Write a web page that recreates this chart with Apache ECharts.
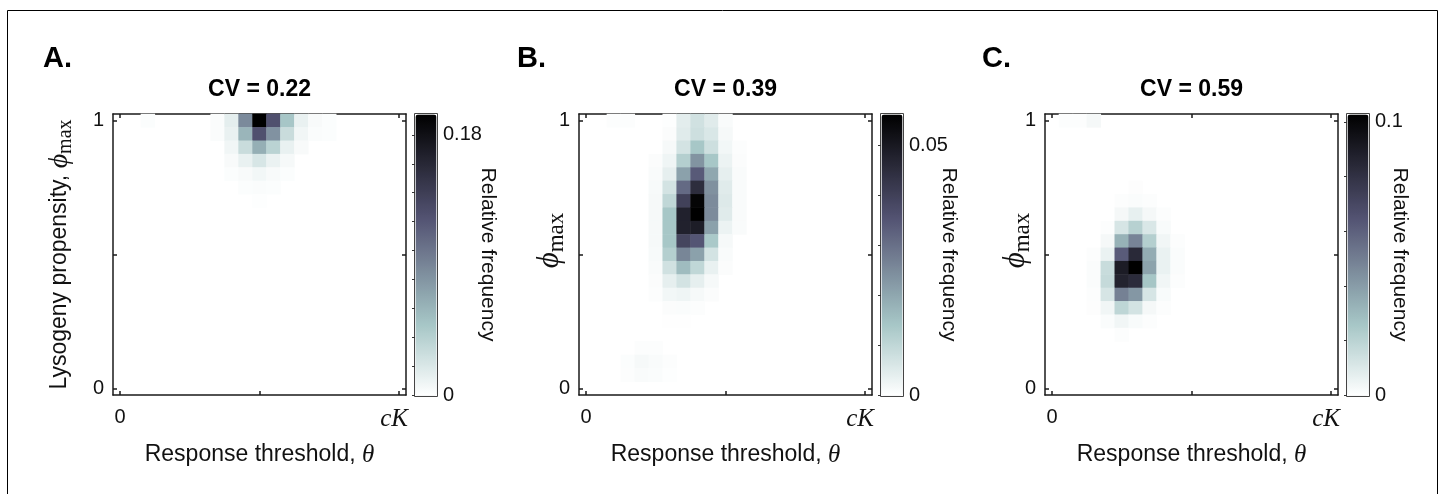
<!DOCTYPE html>
<html><head><meta charset="utf-8">
<style>html,body{margin:0;padding:0;background:#fff}#c{width:1444px;height:494px}</style>
<script src="https://cdn.jsdelivr.net/npm/echarts@6/dist/echarts.min.js"></script>
</head><body><div id="c"></div>
<script>
// ---- categories (bin centres of the 21x21 histogram) ----
const thetaCats = ['0','0.05','0.1','0.15','0.2','0.25','0.3','0.35','0.4','0.45','0.5','0.55','0.6','0.65','0.7','0.75','0.8','0.85','0.9','0.95','1'];
const phiCats   = ['0','0.05','0.1','0.15','0.2','0.25','0.3','0.35','0.4','0.45','0.5','0.55','0.6','0.65','0.7','0.75','0.8','0.85','0.9','0.95','1'];
const panelLetters = ['A.', 'B.', 'C.'];
const cvTitles = ['CV = 0.22', 'CV = 0.39', 'CV = 0.59'];
const xTickLabels = ['0', 'cK'];
const yTickLabels = ['0', '1'];
const cbMax = [0.1945, 0.0562, 0.1029];
const cbTickStep = [0.02, 0.01, 0.02];
const cbLabelValues = [[0, 0.18], [0, 0.05], [0, 0.1]];
const cbLabelTexts = [['0', '0.18'], ['0', '0.05'], ['0', '0.1']];

// ---- relative frequencies; rows run from phi = 1 (top) downward, columns start at theta index colStart ----
const A_colStart = 2;
const A_rows = [
  [0.002, 0, 0, 0, 0, 0.003, 0.015, 0.087, 0.1945, 0.125, 0.049, 0.012, 0.004, 0.002],
  [0, 0, 0, 0, 0, 0.003, 0.012, 0.060, 0.125, 0.082, 0.030, 0.008, 0.003, 0.002],
  [0, 0, 0, 0, 0, 0, 0.008, 0.030, 0.064, 0.038, 0.012, 0.004, 0, 0],
  [0, 0, 0, 0, 0, 0, 0.004, 0.012, 0.022, 0.011, 0.005, 0, 0, 0],
  [0, 0, 0, 0, 0, 0, 0.002, 0.004, 0.007, 0.004, 0.002, 0, 0, 0],
  [0, 0, 0, 0, 0, 0, 0, 0.002, 0.003, 0.002, 0, 0, 0, 0],
  [0, 0, 0, 0, 0, 0, 0, 0, 0.001, 0, 0, 0, 0, 0]
];
const B_colStart = 2;
const B_rows = [
  [0.0005, 0.0005, 0, 0, 0.0003, 0.0045, 0.0075, 0.005, 0.001, 0],
  [0, 0, 0, 0, 0.0007, 0.005, 0.008, 0.006, 0.0015, 0],
  [0, 0, 0, 0, 0.0015, 0.007, 0.014, 0.008, 0.002, 0.0005],
  [0, 0, 0, 0.0007, 0.0025, 0.012, 0.0235, 0.014, 0.003, 0.0007],
  [0, 0, 0, 0.001, 0.004, 0.021, 0.034, 0.020, 0.004, 0.001],
  [0, 0, 0, 0.0012, 0.007, 0.031, 0.045, 0.024, 0.005, 0.001],
  [0, 0, 0, 0.0015, 0.010, 0.040, 0.055, 0.025, 0.0055, 0.001],
  [0, 0, 0, 0.0015, 0.014, 0.048, 0.0562, 0.025, 0.005, 0.001],
  [0, 0, 0, 0.0015, 0.014, 0.048, 0.049, 0.021, 0.003, 0.001],
  [0, 0, 0, 0.0015, 0.014, 0.039, 0.035, 0.0135, 0.0015, 0],
  [0, 0, 0, 0.0012, 0.012, 0.026, 0.021, 0.007, 0.001, 0],
  [0, 0, 0, 0.001, 0.0075, 0.016, 0.010, 0.0035, 0.0007, 0],
  [0, 0, 0, 0.0007, 0.004, 0.007, 0.004, 0.0015, 0, 0],
  [0, 0, 0, 0.0005, 0.002, 0.0025, 0.0015, 0.0007, 0, 0],
  [0, 0, 0, 0, 0.0007, 0.0008, 0.0005, 0, 0, 0],
  [0, 0, 0, 0, 0.0002, 0.0002, 0, 0, 0, 0],
  [0, 0, 0, 0, 0, 0, 0, 0, 0, 0],
  [0, 0, 0.0004, 0.0004, 0, 0, 0, 0, 0, 0],
  [0, 0.0006, 0.0015, 0.001, 0.0005, 0, 0, 0, 0, 0],
  [0, 0.0005, 0.001, 0.0008, 0.0003, 0, 0, 0, 0, 0]
];
const C_colStart = 1;
const C_rows = [
  [0.0008, 0.001, 0.003, 0, 0, 0, 0, 0, 0],
  [0, 0, 0, 0, 0, 0, 0, 0, 0],
  [0, 0, 0, 0, 0, 0, 0, 0, 0],
  [0, 0, 0, 0, 0, 0, 0, 0, 0],
  [0, 0, 0, 0, 0, 0, 0, 0, 0],
  [0, 0, 0, 0, 0, 0.0007, 0, 0, 0],
  [0, 0, 0, 0, 0.001, 0.0015, 0.001, 0, 0],
  [0, 0, 0, 0, 0.003, 0.007, 0.003, 0.001, 0],
  [0, 0, 0, 0.001, 0.012, 0.021, 0.011, 0.002, 0],
  [0, 0, 0, 0.003, 0.033, 0.048, 0.022, 0.004, 0.001],
  [0, 0, 0.001, 0.006, 0.062, 0.084, 0.035, 0.006, 0.0015],
  [0, 0, 0.0015, 0.016, 0.090, 0.1029, 0.038, 0.006, 0.0015],
  [0, 0, 0.0015, 0.017, 0.087, 0.083, 0.026, 0.004, 0.001],
  [0, 0, 0.001, 0.012, 0.049, 0.042, 0.012, 0.002, 0],
  [0, 0, 0.0007, 0.004, 0.019, 0.013, 0.003, 0.001, 0],
  [0, 0, 0, 0.0015, 0.004, 0.002, 0.001, 0, 0],
  [0, 0, 0, 0, 0.0008, 0, 0, 0, 0]
];

// ---- styling / layout ----
const SANS = '"Liberation Sans", Arial, Helvetica, sans-serif';
const SERIF = '"Liberation Serif", "DejaVu Serif", serif';
const INK = '#111';
const boneReversed = ['#ffffff', '#d3e3e3', '#a7c7c7', '#8ba1ab', '#707a8f', '#545474', '#38384d', '#1c1c26', '#000000'];
const panelLeft = [113, 579, 1045];
const W = 293, H = 281, TOP = 114, CB_OFF = 302, CB_W = 21;
const yNameGap = [38, 12, 12];
const yNameShift = [0, 28, 28];
const cbNameGap = [41, 36, 21];
const allRows = [A_rows, B_rows, C_rows];
const allStarts = [A_colStart, B_colStart, C_colStart];

function toCells(rows, colStart) {
  const out = [];
  rows.forEach((row, r) => row.forEach((v, c) => { if (v > 0) out.push([colStart + c, 20 - r, v]); }));
  return out;
}

function nameRich(big) {
  return {
    t: { fontFamily: SANS, fontSize: 23, color: INK, lineHeight: big ? 34 : 30 },
    m: { fontFamily: SERIF, fontStyle: 'italic', fontSize: big ? 31 : 28, color: INK, lineHeight: big ? 34 : 30 },
    s: { fontFamily: SERIF, fontSize: big ? 23 : 20, color: INK, lineHeight: big ? 20 : 18, padding: [big ? 14 : 12, 0, 0, 0] }
  };
}
const xNameRich = {
  t: { fontFamily: SANS, fontSize: 23, color: INK, lineHeight: 28 },
  m: { fontFamily: SERIF, fontStyle: 'italic', fontSize: 25, color: INK, lineHeight: 28 }
};
const tickRich = {
  n: { fontFamily: SANS, fontSize: 20, color: INK },
  m: { fontFamily: SERIF, fontStyle: 'italic', fontSize: 25, color: INK, padding: [0, 10, 0, 0] }
};

const grids = [], xAxes = [], yAxes = [], series = [], visualMaps = [], titles = [];
for (let i = 0; i < 3; i++) {
  const L = panelLeft[i], CL = L + CB_OFF;
  grids.push({ left: L, top: TOP, width: W, height: H });
  grids.push({ left: CL, top: TOP, width: CB_W, height: H });
  const axLine = { show: true, onZero: false, lineStyle: { color: '#1a1a1a', width: 1.5 } };
  const tick = { show: true, inside: true, length: 4, alignWithLabel: true,
    interval: (idx) => idx % 10 === 0, lineStyle: { color: '#1a1a1a', width: 1.5 } };
  const ends = (idx) => idx === 0 || idx === 20;
  // bottom x
  xAxes.push({
    type: 'category', gridIndex: 2 * i, data: thetaCats, position: 'bottom',
    axisLine: axLine, axisTick: tick, splitLine: { show: false },
    axisLabel: { interval: ends, margin: 12, fontSize: 20, color: INK, fontFamily: SANS,
      formatter: (v, idx) => idx === 0 ? '{n|' + xTickLabels[0] + '}' : '{m|' + xTickLabels[1] + '}',
      rich: tickRich },
    name: '{t|Response threshold, }{m|θ}', nameLocation: 'middle', nameGap: 46, nameMoveOverlap: false,
    nameTextStyle: { rich: xNameRich }
  });
  // top x
  xAxes.push({
    type: 'category', gridIndex: 2 * i, data: thetaCats, position: 'top',
    axisLine: axLine, axisTick: tick, axisLabel: { show: false }, splitLine: { show: false }
  });
  // colorbar x (hidden)
  xAxes.push({ type: 'value', gridIndex: 2 * i + 1, show: false });
  // left y
  yAxes.push({
    type: 'category', gridIndex: 2 * i, data: phiCats, position: 'left',
    axisLine: axLine, axisTick: tick, splitLine: { show: false },
    axisLabel: { interval: ends, margin: 9, fontSize: 20, color: INK, fontFamily: SANS,
      formatter: (v, idx) => '{n|' + (idx === 0 ? yTickLabels[0] : yTickLabels[1]) + '}',
      rich: tickRich },
    name: i === 0 ? '{t|Lysogeny propensity, }{m|ϕ}{s|max}' : '{m|ϕ}{s|max}',
    nameLocation: 'middle', nameRotate: 90, nameGap: yNameGap[i], nameMoveOverlap: false,
    nameTextStyle: { rich: nameRich(i > 0), padding: [0, 0, 0, yNameShift[i]] }
  });
  // right y
  yAxes.push({
    type: 'category', gridIndex: 2 * i, data: phiCats, position: 'right',
    axisLine: axLine, axisTick: tick, axisLabel: { show: false }, splitLine: { show: false }
  });
  // colorbar y
  const labV = cbLabelValues[i], labT = cbLabelTexts[i];
  yAxes.push({
    type: 'value', gridIndex: 2 * i + 1, position: 'right', min: 0, max: cbMax[i], interval: cbTickStep[i], z: 10,
    axisLine: { show: false }, splitLine: { show: false },
    axisTick: { show: true, inside: true, length: 3, lineStyle: { color: '#333', width: 1 } },
    axisLabel: { margin: 7, color: INK, fontFamily: SANS, fontSize: 20, showMaxLabel: false,
      formatter: (v) => { for (let k = 0; k < labV.length; k++) { if (Math.abs(v - labV[k]) < 1e-9) return labT[k]; } return ''; } },
    name: 'Relative frequency', nameLocation: 'middle', nameRotate: -90, nameGap: cbNameGap[i], nameMoveOverlap: false,
    nameTextStyle: { fontFamily: SANS, fontSize: 21, color: INK }
  });
  series.push({
    type: 'heatmap', xAxisIndex: 3 * i, yAxisIndex: 3 * i, data: toCells(allRows[i], allStarts[i]),
    itemStyle: { borderWidth: 0 }, emphasis: { disabled: true }, progressive: 0
  });
  visualMaps.push({
    type: 'continuous', seriesIndex: i, min: 0, max: cbMax[i], inRange: { color: boneReversed },
    orient: 'vertical', left: CL - 1, top: TOP - 1, itemWidth: CB_W, itemHeight: H, padding: 1,
    calculable: false, hoverLink: false, borderColor: '#444', borderWidth: 1, text: null
  });
  titles.push({ text: panelLetters[i], left: [43, 517, 982][i], top: 44, padding: 0,
    textStyle: { fontFamily: SANS, fontSize: 29, fontWeight: 'bold', color: '#000' } });
  titles.push({ text: cvTitles[i], left: L + W / 2, top: 78, padding: 0, textAlign: 'center',
    textStyle: { fontFamily: SANS, fontSize: 23, fontWeight: 'bold', color: '#000' } });
}

const chart = echarts.init(document.getElementById('c'), null, { renderer: 'canvas' });
chart.setOption({
  animation: false,
  backgroundColor: '#fff',
  title: titles,
  grid: grids,
  xAxis: xAxes,
  yAxis: yAxes,
  visualMap: visualMaps,
  series: series,
  graphic: [{
    type: 'polyline', silent: true, z: 100,
    shape: { points: [[7.5, 494], [7.5, 10.5], [1437.5, 10.5], [1437.5, 494]] },
    style: { stroke: '#000', lineWidth: 1, fill: null }
  }]
});
</script>
</body></html>
